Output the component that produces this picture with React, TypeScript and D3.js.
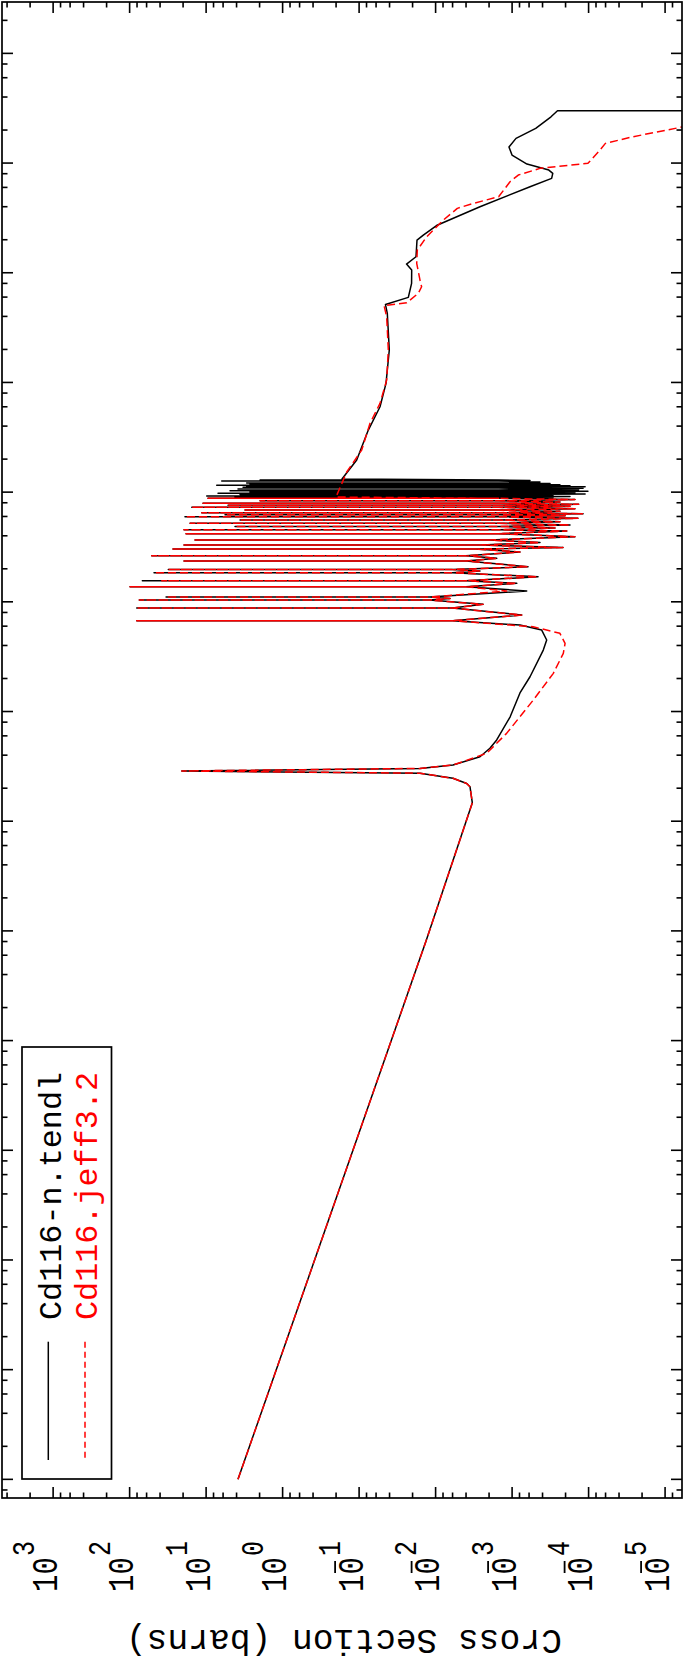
import React from 'react';
import * as d3 from 'd3';

const W = 683;
const H = 1663;
const plot = { left: 2, right: 682, top: 2, bottom: 1498 };

// axis limits (barns, eV)
const sigmaDomain: [number, number] = [4.66e3, 6.01e-6];
const energyDomain: [number, number] = [2.94e8, 6.76e-6];
const sigmaDecades = [3, 2, 1, 0, -1, -2, -3, -4, -5];
const minorMultipliers = [2, 4, 6, 8];

// TENDL: 1/v region + first resonance + broad valley
const tendlLow: [number, number][] = [
  [1e-5, 3.83], [0.826, 1.32e-2], [14.7, 3.31e-3], [20.6, 3.55e-3], [22.1, 3.92e-3],
  [24.6, 5.93e-3], [27.4, 1.6e-2], [28.7, 20.8], [30.3, 1.6e-2], [32.5, 5.93e-3],
  [38.7, 2.63e-3], [46.2, 1.95e-3], [55.0, 1.59e-3], [89.5, 1.06e-3], [147.6, 7.89e-4],
  [207.5, 5.83e-4], [363, 3.91e-4], [449, 3.53e-4], [553, 4.1e-4], [614, 7.89e-4],
];
const jeffLow: [number, number][] = [
  [1e-5, 3.83], [0.826, 1.32e-2], [14.7, 3.31e-3], [20.6, 3.55e-3], [22.1, 3.92e-3],
  [24.6, 5.93e-3], [27.4, 1.6e-2], [28.7, 20.8], [30.3, 1.6e-2], [32.5, 5.93e-3],
  [41.6, 2.15e-3], [63.2, 1.18e-3], [127.3, 5.28e-4], [222.9, 2.89e-4], [339.1, 2.14e-4],
  [418.2, 2.03e-4], [516.1, 2.37e-4], [592.8, 5.33e-4],
];

// resolved resonances: energy (eV), peak (b), shoulder level (b); valleys after each peak
const tendlResE = [673, 877, 1038, 1106, 1372, 1557, 1842, 1970, 2354, 2631, 3029, 3294, 3659, 4177, 4540, 4857, 5194, 5567, 5966, 6223, 6490, 6867, 7266, 7579, 7903, 8329, 8778, 9020, 9211, 9506, 9750, 10018, 10297, 10668, 11057, 11290, 11531, 11850, 12100, 12620, 12890];
const tendlResPeak = [80.7, 80.7, 74.7, 33.4, 98.8, 68.2, 48.0, 31.2, 19.45, 51.4, 27.1, 19.45, 13.96, 18.3, 19.45, 4.19, 16.2, 3.6, 18.9, 5.66, 11.4, 3.1, 15.4, 5.17, 10.98, 1.97, 9.44, 4.19, 9.82, 3.6, 6.99, 2.67, 4.87, 3.83, 3.29, 2.95, 7.27, 2.67, 2.95, 6.25, 1.97];
const tendlResShoulder = [6e-3, 6e-3, 1.2e-2, 1.2e-2, 4e-3, 4e-3, 6e-3, 6e-3, 4e-3, 4e-3, 3e-3, 2.5e-3, 2e-3, 1.5e-3, 1.5e-3, 1.5e-3, 1.5e-3, 1.5e-3, 1.5e-3, 1.5e-3, 1.5e-3, 1.5e-3, 1.5e-3, 1.5e-3, 1.5e-3, 1.5e-3, 1.5e-3, 1.5e-3, 1.5e-3, 1.5e-3, 1.5e-3, 1.5e-3, 1.5e-3, 1.5e-3, 1.5e-3, 1.5e-3, 1.5e-3, 1.5e-3, 1.5e-3, 1.5e-3, 1.5e-3];
const tendlValE = [757.8, 948, 1071, 1254, 1474, 1693, 1909, 2089, 2491, 2844, 3126, 3471, 3921, 4418, 4706, 5012, 5370, 5768, 6093, 6353, 6683, 7057, 7421, 7741, 8120, 8559, 8908, 9116, 9368, 9607, 9872, 10170, 10490, 10850, 11170, 11410, 11700, 11980, 12360, 12750];
const tendlValS = [7.49e-4, 2.4e-3, 6.48e-3, 6.44e-4, 8.7e-4, 4.58e-4, 2.63e-3, 6.19e-4, 1.59e-3, 7.89e-4, 2.16e-4, 4.32e-4, 1.51e-4, 1.93e-4, 2.75e-4, 1.75e-4, 2.37e-4, 1.38e-4, 2.03e-4, 1.18e-4, 2.37e-4, 1.51e-4, 1.75e-4, 1.35e-4, 2.37e-4, 1.51e-4, 2.92e-4, 1.75e-4, 2.92e-4, 1.11e-4, 1.51e-4, 1.02e-4, 1.35e-4, 1.18e-4, 1.11e-4, 1.75e-4, 2.37e-4, 3.19e-4, 4.32e-4, 5.83e-4];

const jeffResE = [673, 877, 1038, 1106, 1372, 1557, 1842, 1970, 2354, 2631, 3029, 3294, 3659, 4177, 4540, 4857, 5194, 5567, 5966, 6223, 6490, 6867, 7266, 7579, 7903, 8329, 8778];
const jeffResPeak = [80.7, 80.7, 74.7, 33.4, 98.8, 38.0, 48.0, 31.2, 19.45, 51.4, 27.1, 19.45, 13.96, 18.3, 19.45, 4.19, 16.2, 3.6, 18.9, 5.66, 11.4, 3.1, 15.4, 5.17, 10.98, 1.97, 9.44];
const jeffResShoulder = [6e-3, 6e-3, 1.2e-2, 1.2e-2, 4e-3, 4e-3, 6e-3, 6e-3, 4e-3, 4e-3, 3e-3, 2.5e-3, 2e-3, 1.5e-3, 1.5e-3, 1.5e-3, 1.5e-3, 1.5e-3, 1.5e-3, 1.5e-3, 1.5e-3, 1.5e-3, 1.5e-3, 1.5e-3, 1.5e-3, 1.5e-3, 1.5e-3];
const jeffValE = [757.8, 948, 1071, 1254, 1474, 1693, 1909, 2089, 2491, 2844, 3126, 3471, 3921, 4418, 4706, 5012, 5370, 5768, 6093, 6353, 6683, 7057, 7421, 7741, 8120, 8559];
const jeffValS = [7.49e-4, 2.4e-3, 6.48e-3, 1.18e-3, 8.7e-4, 4.58e-4, 2.63e-3, 6.19e-4, 1.59e-3, 7.89e-4, 2.16e-4, 4.32e-4, 1.51e-4, 1.93e-4, 2.75e-4, 1.75e-4, 2.37e-4, 1.38e-4, 2.03e-4, 1.18e-4, 2.37e-4, 1.51e-4, 1.75e-4, 1.35e-4, 2.37e-4, 1.51e-4];

// smooth / unresolved and fast range
const tendlHigh: [number, number][] = [
  [13160, 0.1674], [19610, 0.1075], [36810, 0.0758], [60030, 0.0533], [98100, 0.0445],
  [197400, 0.0403], [426400, 0.0428], [513000, 0.0452], [596600, 0.02274], [800600, 0.0206],
  [1.058e6, 0.02054], [1.2e6, 0.024], [1.399e6, 0.01804], [1.986e6, 0.0175], [2.206e6, 0.01448],
  [2.693e6, 9.73e-3], [3.996e6, 2.63e-3], [6.08e6, 5.83e-4], [7.253e6, 3.04e-4], [8.055e6, 2.94e-4],
  [8.635e6, 3.31e-4], [9.793e6, 6.39e-4], [1.183e7, 1.003e-3], [1.399e7, 1.098e-3], [1.68e7, 8.89e-4],
  [2.072e7, 4.91e-4], [2.642e7, 3.1e-4], [3.0e7, 2.55e-4], [3.0e7, 1e-9],
];
const jeffHigh: [number, number][] = [
  [9020, 0.2004], [15250, 0.1452], [24190, 0.0925], [42380, 0.072], [64470, 0.0533],
  [105100, 0.0436], [197400, 0.0415], [397000, 0.0436], [502300, 0.0472], [532800, 0.02386],
  [649100, 0.01683], [745600, 0.01524], [857900, 0.016], [1.218e6, 0.01766], [1.61e6, 0.01735],
  [2.129e6, 0.01307], [3.023e6, 7.93e-3], [3.864e6, 5.2e-3], [4.29e6, 3.21e-3], [4.93e6, 1.5e-3],
  [6.753e6, 1.065e-3], [7.773e6, 8.3e-4], [8.948e6, 4.32e-4], [9.936e6, 1.02e-4], [1.314e7, 7.1e-5],
  [1.512e7, 6.03e-5], [1.737e7, 2.63e-5], [2.13e7, 6.01e-6], [2.4e7, 1e-6],
];

const legendLabels = ['Cd116-n.tendl', 'Cd116.jeff3.2'];
const seriesColors = ['#000000', '#ff0000'];

function buildSeries(
  low: [number, number][], resE: number[], resPeak: number[], resSh: number[],
  valE: number[], valS: number[], high: [number, number][]
): [number, number][] {
  const pts: [number, number][] = [...low];
  resE.forEach((e, i) => {
    pts.push([e, resSh[i]], [e, resPeak[i]], [e, resSh[i]]);
    if (i < valE.length) pts.push([valE[i], valS[i]]);
  });
  return pts.concat(high);
}

const FONT = "'Liberation Mono', 'DejaVu Sans Mono', monospace";

export default function App() {
  const xS = d3.scaleLog().domain(sigmaDomain).range([plot.left, plot.right]);
  const yS = d3.scaleLog().domain(energyDomain).range([plot.top, plot.bottom]);
  const line = d3.line<[number, number]>().x((d) => xS(d[1])).y((d) => yS(d[0]));

  const tendl = buildSeries(tendlLow, tendlResE, tendlResPeak, tendlResShoulder, tendlValE, tendlValS, tendlHigh);
  const jeff = buildSeries(jeffLow, jeffResE, jeffResPeak, jeffResShoulder, jeffValE, jeffValS, jeffHigh);

  const inRange = (v: number, dom: [number, number]) => v <= Math.max(...dom) && v >= Math.min(...dom);
  const sigmaMajor = d3.range(-6, 5).map((e) => Math.pow(10, e)).filter((v) => inRange(v, sigmaDomain));
  const sigmaMinor = d3.range(-6, 5).flatMap((e) => minorMultipliers.map((m) => m * Math.pow(10, e))).filter((v) => inRange(v, sigmaDomain));
  const eMajor = d3.range(-6, 10).map((e) => Math.pow(10, e)).filter((v) => inRange(v, energyDomain));
  const eMinor = d3.range(-6, 10).flatMap((e) => minorMultipliers.map((m) => m * Math.pow(10, e))).filter((v) => inRange(v, energyDomain));

  const majLen = 11;
  const minLen = 5.5;
  const tickStroke = { stroke: '#000', strokeWidth: 1.6 };

  return (
    <svg width={W} height={H} style={{ position: 'absolute', left: 0, top: 0, background: '#fff' }}>
      <defs>
        <clipPath id="plotClip">
          <rect x={plot.left} y={plot.top} width={plot.right - plot.left} height={plot.bottom - plot.top} />
        </clipPath>
      </defs>
      <rect x={0} y={0} width={W} height={H} fill="#fff" />
      <g clipPath="url(#plotClip)" fill="none" strokeLinejoin="round">
        <path d={line(tendl) || ''} stroke={seriesColors[0]} strokeWidth={1.5} />
        <path d={line(jeff) || ''} stroke={seriesColors[1]} strokeWidth={1.5} strokeDasharray="8,4" />
      </g>
      <rect x={plot.left} y={plot.top} width={plot.right - plot.left} height={plot.bottom - plot.top} fill="none" stroke="#000" strokeWidth={1.7} />
      {sigmaMajor.map((v, i) => (
        <g key={'sm' + i}>
          <line x1={xS(v)} x2={xS(v)} y1={plot.top} y2={plot.top + majLen} {...tickStroke} />
          <line x1={xS(v)} x2={xS(v)} y1={plot.bottom} y2={plot.bottom - majLen} {...tickStroke} />
        </g>
      ))}
      {sigmaMinor.map((v, i) => (
        <g key={'sn' + i}>
          <line x1={xS(v)} x2={xS(v)} y1={plot.top} y2={plot.top + minLen} {...tickStroke} />
          <line x1={xS(v)} x2={xS(v)} y1={plot.bottom} y2={plot.bottom - minLen} {...tickStroke} />
        </g>
      ))}
      {eMajor.map((v, i) => (
        <g key={'em' + i}>
          <line y1={yS(v)} y2={yS(v)} x1={plot.left} x2={plot.left + majLen} {...tickStroke} />
          <line y1={yS(v)} y2={yS(v)} x1={plot.right} x2={plot.right - majLen} {...tickStroke} />
        </g>
      ))}
      {eMinor.map((v, i) => (
        <g key={'en' + i}>
          <line y1={yS(v)} y2={yS(v)} x1={plot.left} x2={plot.left + minLen} {...tickStroke} />
          <line y1={yS(v)} y2={yS(v)} x1={plot.right} x2={plot.right - minLen} {...tickStroke} />
        </g>
      ))}
      {sigmaDecades.map((e) => {
        const x = xS(Math.pow(10, e)) + 3.5;
        const y = 1592;
        return (
          <g key={'lab' + e}>
            <g transform={`translate(${x},${y}) rotate(-90) scale(1,1.28)`} fontFamily={FONT} fill="#000">
              <text x={0} y={0} fontSize={29}>10</text>
              <text x={36} y={-18} fontSize={25}>{Math.abs(e)}</text>
            </g>
            {e < 0 && (
              <line x1={x - 27.5} x2={x - 27.5} y1={1592 - 19} y2={1592 - 31} stroke="#000" strokeWidth={1.8} />
            )}
          </g>
        );
      })}
      <text transform={`translate(344,1630) rotate(180)`} textAnchor="middle" fontFamily={FONT} fontSize={34.6} fill="#000">
        Cross Section (barns)
      </text>
      <rect x={22} y={1047} width={89.5} height={432} fill="#fff" stroke="#000" strokeWidth={1.7} />
      <line x1={48.3} x2={48.3} y1={1341.7} y2={1460} stroke={seriesColors[0]} strokeWidth={1.5} />
      <line x1={85} x2={85} y1={1341.7} y2={1460} stroke={seriesColors[1]} strokeWidth={1.5} strokeDasharray="6,4" />
      <text transform={`translate(61,1320) rotate(-90)`} fontFamily={FONT} fontSize={31.8} fill={seriesColors[0]}>{legendLabels[0]}</text>
      <text transform={`translate(97,1320) rotate(-90)`} fontFamily={FONT} fontSize={31.8} fill={seriesColors[1]}>{legendLabels[1]}</text>
    </svg>
  );
}
